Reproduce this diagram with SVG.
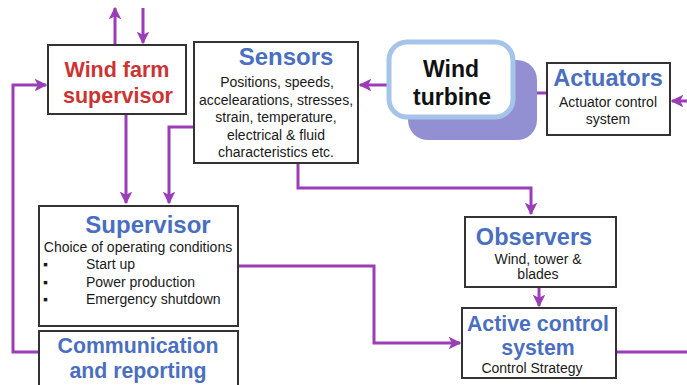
<svg xmlns="http://www.w3.org/2000/svg" width="687" height="385" viewBox="0 0 687 385">
  <defs>
    <marker id="arrow" viewBox="0 0 10 10" refX="9" refY="5" markerWidth="4.2" markerHeight="4.2" markerUnits="strokeWidth" orient="auto">
      <path d="M0,0 L10,5 L0,10 L2.5,5 Z" fill="#9c3db8"/>
    </marker>
  </defs>
  <style>
    .box { fill: #ffffff; stroke: #333333; stroke-width: 2; }
    .title { font-family: "Liberation Sans", Arial, sans-serif; font-weight: bold; fill: #4a6fc0; text-anchor: middle; }
    .body { font-family: "Liberation Sans", Arial, sans-serif; font-size: 14px; fill: #1a1a1a; text-anchor: middle; }
    .left { text-anchor: start; }
    .link { fill: none; stroke: #9c3db8; stroke-width: 3; }
    .tip { marker-end: url(#arrow); }
  </style>
  <rect width="687" height="385" fill="#ffffff"/>

  <!-- connectors -->
  <g id="connectors">
    <path class="link tip" d="M115,45 V8"/>
    <path class="link tip" d="M143,8 V43"/>
    <path class="link tip" d="M126,103 V203"/>
    <path class="link tip" d="M194,127 H169 V203"/>
    <path class="link tip" d="M389,85 H360"/>
    <path class="link tip" d="M547,93 H513"/>
    <path class="link tip" d="M687,101 H672"/>
    <path class="link tip" d="M298,163 V188 H531 V214"/>
    <path class="link tip" d="M539,286 V306"/>
    <path class="link tip" d="M238,266 H374 V343 H460"/>
    <path class="link" d="M616,352 H687"/>
    <path class="link tip" d="M40,352 H13 V85 H46"/>
  </g>

  <!-- wind farm supervisor -->
  <g id="wind-farm-supervisor">
    <rect class="box" x="48" y="45" width="138" height="69"/>
    <text x="117" y="77" font-family="Liberation Sans, Arial, sans-serif" font-weight="bold" font-size="21.5" fill="#cc3333" text-anchor="middle">Wind farm</text>
    <text x="118" y="103" font-family="Liberation Sans, Arial, sans-serif" font-weight="bold" font-size="21.5" fill="#cc3333" text-anchor="middle">supervisor</text>
  </g>

  <!-- sensors -->
  <g id="sensors">
    <rect class="box" x="194" y="42" width="164" height="121"/>
    <text class="title" x="286" y="65" font-size="24">Sensors</text>
    <text class="body" x="277" y="87">Positions, speeds,</text>
    <text class="body" x="276" y="105">accelearations, stresses,</text>
    <text class="body" x="276" y="122">strain, temperature,</text>
    <text class="body" x="276" y="140">electrical &amp; fluid</text>
    <text class="body" x="276" y="157">characteristics etc.</text>
  </g>

  <!-- wind turbine -->
  <g id="wind-turbine">
    <rect x="408" y="60" width="129" height="80" rx="20" fill="#9290d2"/>
    <rect x="389" y="42" width="124" height="75" rx="18" fill="#ffffff" stroke="#a6c4ea" stroke-width="5"/>
    <text x="451" y="77" font-family="Liberation Sans, Arial, sans-serif" font-weight="bold" font-size="23" fill="#111111" text-anchor="middle">Wind</text>
    <text x="452" y="105" font-family="Liberation Sans, Arial, sans-serif" font-weight="bold" font-size="23" fill="#111111" text-anchor="middle">turbine</text>
  </g>

  <!-- actuators -->
  <g id="actuators">
    <rect class="box" x="547" y="63" width="123" height="72"/>
    <text class="title" x="608" y="86" font-size="23.5">Actuators</text>
    <text class="body" x="608" y="107">Actuator control</text>
    <text class="body" x="608" y="124">system</text>
  </g>

  <!-- supervisor -->
  <g id="supervisor">
    <rect class="box" x="39" y="206" width="199" height="120"/>
    <text class="title" x="148" y="233" font-size="24">Supervisor</text>
    <text class="body" x="138" y="252">Choice of operating conditions</text>
    <text class="body left" x="43" y="269" font-size="12">▪</text>
    <text class="body left" x="86" y="269">Start up</text>
    <text class="body left" x="43" y="287" font-size="12">▪</text>
    <text class="body left" x="86" y="287">Power production</text>
    <text class="body left" x="43" y="304" font-size="12">▪</text>
    <text class="body left" x="86" y="304">Emergency shutdown</text>
  </g>

  <!-- communication and reporting -->
  <g id="communication">
    <rect class="box" x="39" y="331" width="199" height="60"/>
    <text class="title" x="138" y="353" font-size="21.3">Communication</text>
    <text class="title" x="138" y="378" font-size="21.3">and reporting</text>
  </g>

  <!-- observers -->
  <g id="observers">
    <rect class="box" x="465" y="217" width="151" height="70"/>
    <text class="title" x="534" y="245" font-size="23.5">Observers</text>
    <text class="body" x="538" y="264">Wind, tower &amp;</text>
    <text class="body" x="538" y="279">blades</text>
  </g>

  <!-- active control system -->
  <g id="active-control">
    <rect class="box" x="462" y="308" width="154" height="70"/>
    <text class="title" x="538" y="331" font-size="21.3">Active control</text>
    <text class="title" x="538" y="355" font-size="21.3">system</text>
    <text class="body" x="532" y="373" font-size="13.5">Control Strategy</text>
  </g>
</svg>
